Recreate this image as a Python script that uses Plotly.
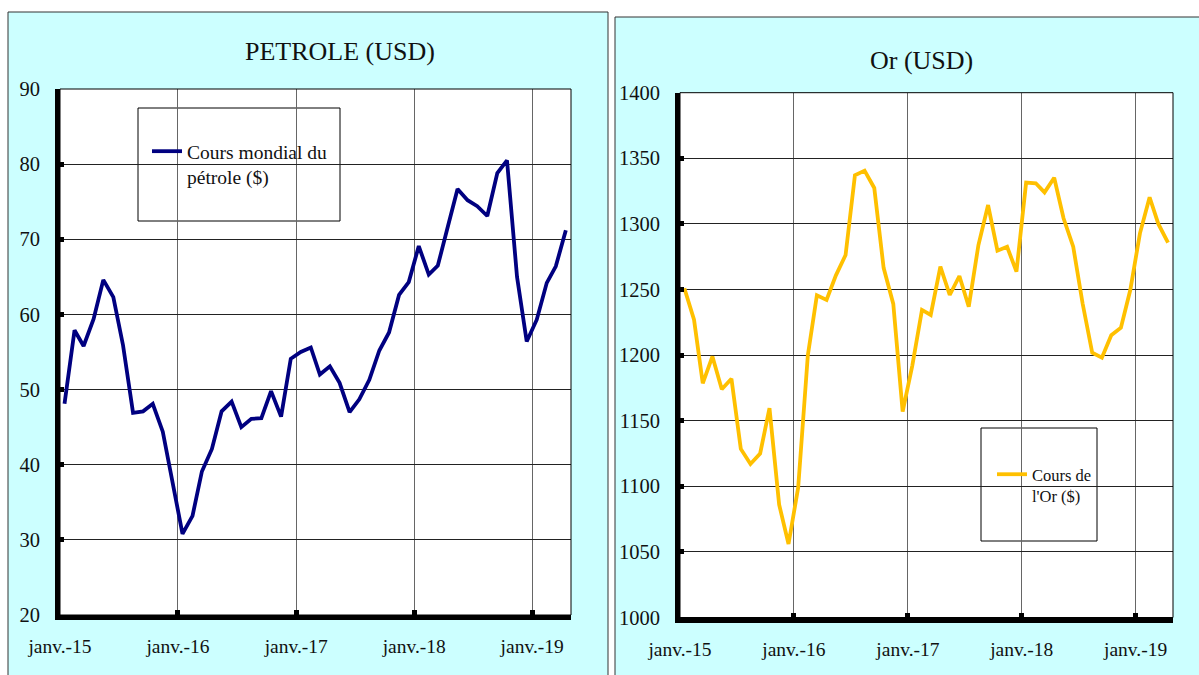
import plotly.graph_objects as go
import pandas as pd

# ---------------- data ----------------
months = [d.strftime("%Y-%m-15") for d in pd.date_range("2015-01-01", periods=52, freq="MS")]

petrole = [48.1, 57.9, 55.8, 59.4, 64.6, 62.3, 55.9, 46.9, 47.1, 48.1, 44.4, 37.7,
           30.8, 33.2, 39.1, 42.1, 47.1, 48.4, 45.0, 46.1, 46.2, 49.8, 46.4, 54.1,
           55.0, 55.6, 52.0, 53.1, 50.9, 47.0, 48.7, 51.3, 55.2, 57.6, 62.6, 64.3,
           69.1, 65.3, 66.5, 71.7, 76.7, 75.2, 74.4, 73.1, 78.8, 80.5, 65.0, 56.4,
           59.3, 64.2, 66.4, 71.2]

gold = [1251, 1227, 1178.5, 1199, 1174, 1182, 1128.5, 1117, 1125, 1159.5, 1086, 1056,
        1099, 1200, 1245.6, 1242, 1260.8, 1276.3, 1337, 1340.6, 1327.4, 1266.5, 1239, 1157,
        1192, 1234.4, 1230.6, 1267.4, 1245.8, 1260.3, 1236.9, 1283.9, 1314.4, 1279.6, 1282.6, 1263.6,
        1331.5, 1331, 1324, 1335.2, 1304.3, 1282.6, 1239.5, 1201.8, 1198, 1215.1, 1220.9, 1249.6,
        1292.8, 1320.3, 1300, 1285.7]

tick_dates = ["2015-01-01", "2016-01-01", "2017-01-01", "2018-01-01", "2019-01-01"]
tick_labels = ["janv.-15", "janv.-16", "janv.-17", "janv.-18", "janv.-19"]

petrole_name = "Cours mondial du<br>pétrole ($)"
gold_name = "Cours de<br>l'Or ($)"
title_left = "PETROLE (USD)"
title_right = "Or (USD)"

# ---------------- layout helpers ----------------
W, H = 1199, 675
FONT = "Liberation Serif, Times New Roman, serif"


def px(x):
    return x / W


def py(y):
    return 1 - y / H


fig = go.Figure()
fig.add_trace(go.Scatter(x=months, y=petrole, mode="lines", name=petrole_name,
                         line=dict(color="#000080", width=3.8),
                         xaxis="x", yaxis="y", legend="legend"))
fig.add_trace(go.Scatter(x=months, y=gold, mode="lines", name=gold_name,
                         line=dict(color="#FFC000", width=3.8),
                         xaxis="x2", yaxis="y2", legend="legend2"))

xcommon = dict(type="date", range=["2015-01-01", "2019-05-01"],
               tickmode="array", tickvals=tick_dates, ticktext=tick_labels,
               showgrid=True, gridcolor="#666666", gridwidth=1,
               showline=True, linecolor="black", linewidth=5,
               ticks="inside", ticklen=5, tickwidth=5, tickcolor="black",
               tickfont=dict(family=FONT, size=19.5, color="#111"),
               ticklabelstandoff=10, zeroline=False, fixedrange=True)
ycommon = dict(showgrid=True, gridcolor="#222222", gridwidth=1,
               showline=True, linecolor="black", linewidth=5,
               ticks="inside", ticklen=4, tickwidth=5, tickcolor="black",
               tickfont=dict(family=FONT, size=20.5, color="#111"),
               ticklabelstandoff=11, zeroline=False, fixedrange=True)

fig.update_layout(
    width=W, height=H,
    margin=dict(l=0, r=0, t=0, b=0, autoexpand=False),
    paper_bgcolor="white", plot_bgcolor="white",
    showlegend=True, hovermode=False,
    xaxis=dict(domain=[px(60), px(571)], anchor="y", **xcommon),
    yaxis=dict(domain=[py(615), py(89)], anchor="x", range=[20, 90],
               tick0=20, dtick=10, **ycommon),
    xaxis2=dict(domain=[px(680), px(1173)], anchor="y2", **xcommon),
    yaxis2=dict(domain=[py(617.5), py(92.7)], anchor="x2", range=[1000, 1400],
                tick0=1000, dtick=50, **ycommon),
    legend=dict(x=px(147), y=py(132), xanchor="left", yanchor="top",
                bgcolor="rgba(0,0,0,0)", borderwidth=0, valign="top",
                font=dict(family=FONT, size=19.5, color="#111")),
    legend2=dict(x=px(992), y=py(457), xanchor="left", yanchor="top",
                 bgcolor="rgba(0,0,0,0)", borderwidth=0, valign="top",
                 font=dict(family=FONT, size=16.5, color="#111")),
)

shapes = [
    # cyan panels
    dict(type="rect", xref="paper", yref="paper", x0=px(8), x1=px(608), y0=-0.05, y1=py(12),
         fillcolor="#CCFFFF", line=dict(color="#333", width=1), layer="below"),
    dict(type="rect", xref="paper", yref="paper", x0=px(615), x1=1.05, y0=-0.05, y1=py(17),
         fillcolor="#CCFFFF", line=dict(color="#333", width=1), layer="below"),
    # white plot areas
    dict(type="rect", xref="x domain", yref="y domain", x0=0, x1=1, y0=0, y1=1,
         fillcolor="white", line=dict(width=0), layer="below"),
    dict(type="rect", xref="x2 domain", yref="y2 domain", x0=0, x1=1, y0=0, y1=1,
         fillcolor="white", line=dict(width=0), layer="below"),
    # thin plot-area borders
    dict(type="rect", xref="x domain", yref="y domain", x0=0, x1=1, y0=0, y1=1,
         line=dict(color="black", width=1), layer="above"),
    dict(type="rect", xref="x2 domain", yref="y2 domain", x0=0, x1=1, y0=0, y1=1,
         line=dict(color="black", width=1), layer="above"),
    # legend boxes
    dict(type="rect", xref="paper", yref="paper", x0=px(138), x1=px(340), y0=py(221), y1=py(108),
         fillcolor="white", line=dict(color="black", width=1), layer="between"),
    dict(type="rect", xref="paper", yref="paper", x0=px(981), x1=px(1097), y0=py(541), y1=py(428),
         fillcolor="white", line=dict(color="black", width=1), layer="between"),
]
fig.update_layout(shapes=shapes)

fig.add_annotation(text=title_left, xref="paper", yref="paper", x=px(340), y=py(52),
                   showarrow=False, xanchor="center", yanchor="middle",
                   font=dict(family=FONT, size=26, color="#111"))
fig.add_annotation(text=title_right, xref="paper", yref="paper", x=px(921), y=py(60),
                   showarrow=False, xanchor="center", yanchor="middle",
                   font=dict(family=FONT, size=26, color="#111"))

fig.write_html("out.html", config={"displayModeBar": False},
               post_script="document.body.style.margin='0';document.body.style.padding='0';"
                           "document.body.style.overflow='hidden';")
